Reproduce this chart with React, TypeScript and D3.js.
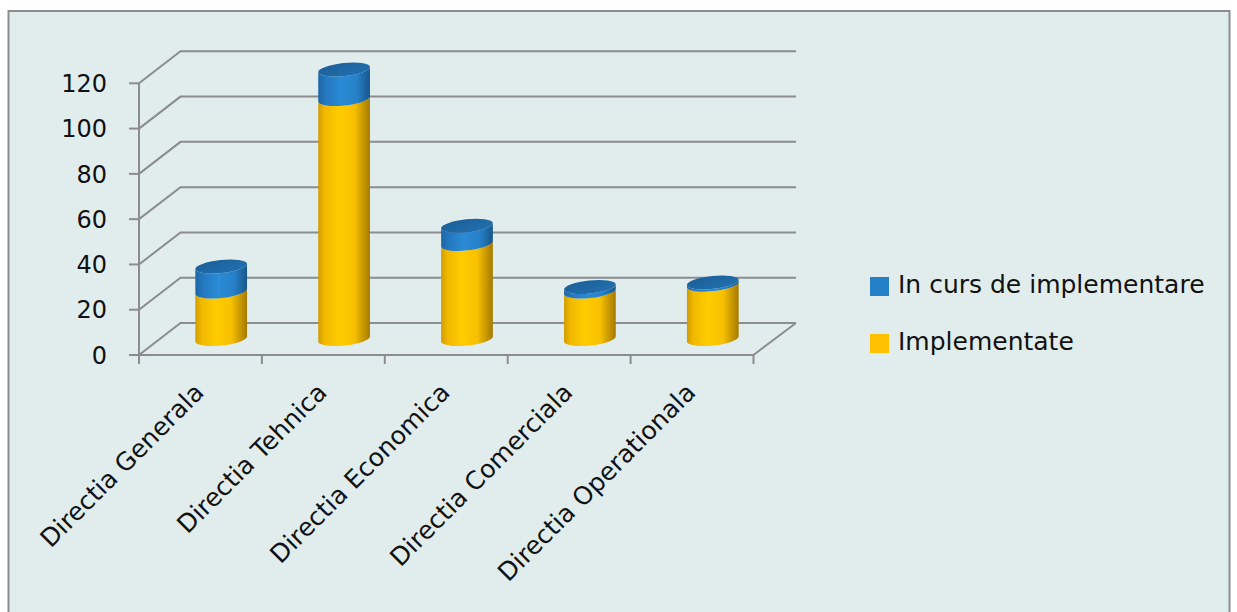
import React from "react";
import * as d3 from "d3";

const categories = [
  "Directia Generala",
  "Directia Tehnica",
  "Directia Economica",
  "Directia Comerciala",
  "Directia Operationala",
];
const implementate = [21, 106, 42, 21, 24];
const inCurs = [11, 13, 8, 2, 1];
const yTicks = [0, 20, 40, 60, 80, 100, 120];
const legendNames = ["In curs de implementare", "Implementate"];

const W = 1237;
const H = 612;
const DX = 41.5;
const DY = -32;
const RX = 26;
const RY = 6.5;
const TILT = -6;
const GRID = "#8c8c8c";
const FONT = "'DejaVu Sans', Verdana, sans-serif";

export default function App() {
  const x = d3.scaleBand<string>().domain(categories).range([139, 753.5]).padding(0);
  const y = d3.scaleLinear().domain([0, 120]).range([355, 83.3]);
  const bw = x.bandwidth();
  const th = (TILT * Math.PI) / 180;
  const a = RX * Math.cos(th);
  const d = RX * Math.sin(th); // negative

  const side = (cx: number, yb: number, yt: number) => {
    const L = (yy: number) => [cx - a, yy - d];
    const R = (yy: number) => [cx + a, yy + d];
    const [lx1, ly1] = L(yt);
    const [lx0, ly0] = L(yb);
    const [rx0, ry0] = R(yb);
    const [rx1, ry1] = R(yt);
    return `M${lx1},${ly1} L${lx0},${ly0} A${RX},${RY} ${TILT} 0 0 ${rx0},${ry0} L${rx1},${ry1} A${RX},${RY} ${TILT} 0 1 ${lx1},${ly1} Z`;
  };

  const backLeft = 139 + DX;
  const backRight = 796;
  const floorFront = y(0);

  return (
    <svg
      width={W}
      height={H}
      style={{ position: "absolute", left: 0, top: 0, display: "block" }}
    >
      <defs>
        <linearGradient id="gYellow" x1="0" x2="1" y1="0" y2="0">
          <stop offset="0%" stopColor="#d29c00" />
          <stop offset="12%" stopColor="#f0b800" />
          <stop offset="40%" stopColor="#ffcc00" />
          <stop offset="70%" stopColor="#f7c000" />
          <stop offset="100%" stopColor="#a47a00" />
        </linearGradient>
        <linearGradient id="gBlue" x1="0" x2="1" y1="0" y2="0">
          <stop offset="0%" stopColor="#1d66a6" />
          <stop offset="15%" stopColor="#2478c0" />
          <stop offset="45%" stopColor="#2b8bd6" />
          <stop offset="75%" stopColor="#2680c8" />
          <stop offset="100%" stopColor="#175689" />
        </linearGradient>
        <linearGradient id="gTop" x1="0" x2="1" y1="0" y2="1">
          <stop offset="0%" stopColor="#1b5f97" />
          <stop offset="100%" stopColor="#2270b0" />
        </linearGradient>
      </defs>
      <rect x={0} y={0} width={W} height={H} fill="#ffffff" />
      <rect x={8.5} y={11} width={1221} height={640} fill="#e1eded" stroke={GRID} strokeWidth={2} />

      {/* gridlines: left wall + back wall */}
      {yTicks.map((t) => {
        const yy = y(t);
        return (
          <polyline
            key={"g" + t}
            points={`139,${yy} ${backLeft},${yy + DY} ${backRight},${yy + DY}`}
            fill="none"
            stroke={GRID}
            strokeWidth={2}
          />
        );
      })}
      {/* floor front & right edge */}
      <polyline
        points={`139,${floorFront} ${x.range()[1]},${floorFront} ${backRight},${floorFront + DY}`}
        fill="none"
        stroke={GRID}
        strokeWidth={2}
      />
      {/* vertical axis */}
      <line x1={139} x2={139} y1={y(120)} y2={y(0)} stroke={GRID} strokeWidth={2} />
      {yTicks.map((t) => (
        <line key={"t" + t} x1={129} x2={139} y1={y(t)} y2={y(t)} stroke={GRID} strokeWidth={2} />
      ))}
      {yTicks.map((t) => (
        <text
          key={"l" + t}
          x={107}
          y={y(t)}
          dy="0.36em"
          textAnchor="end"
          fontFamily={FONT}
          fontSize={24}
          fill="#111"
        >
          {t}
        </text>
      ))}
      {/* bottom ticks */}
      {d3.range(categories.length + 1).map((i) => {
        const xx = 139 + i * bw;
        return <line key={"bt" + i} x1={xx} x2={xx} y1={floorFront} y2={floorFront + 9} stroke={GRID} strokeWidth={2} />;
      })}

      {/* cylinders */}
      {categories.map((c, i) => {
        const cx = (x(c) as number) + bw / 2 + DX / 2;
        const y0 = y(0) + DY / 2;
        const y1 = y(implementate[i]) + DY / 2;
        const y2 = y(implementate[i] + inCurs[i]) + DY / 2;
        return (
          <g key={c}>
            <path d={side(cx, y0, y1)} fill="url(#gYellow)" />
            <path d={side(cx, y1, y2)} fill="url(#gBlue)" />
            <ellipse
              cx={cx}
              cy={y2}
              rx={RX}
              ry={RY}
              transform={`rotate(${TILT},${cx},${y2})`}
              fill="url(#gTop)"
            />
          </g>
        );
      })}

      {/* x labels */}
      {categories.map((c) => {
        const cx = (x(c) as number) + bw / 2;
        return (
          <text
            key={"x" + c}
            transform={`translate(${cx + 5},${394}) rotate(-45)`}
            textAnchor="end"
            fontFamily={FONT}
            fontSize={25}
            fill="#111"
          >
            {c}
          </text>
        );
      })}

      {/* legend */}
      <rect x={870} y={277} width={19} height={19} fill="#2680c8" />
      <text x={898} y={292.5} fontFamily={FONT} fontSize={25} fill="#111">
        {legendNames[0]}
      </text>
      <rect x={870} y={334} width={19} height={19} fill="#ffc000" />
      <text x={898} y={349.5} fontFamily={FONT} fontSize={25} fill="#111">
        {legendNames[1]}
      </text>
    </svg>
  );
}
